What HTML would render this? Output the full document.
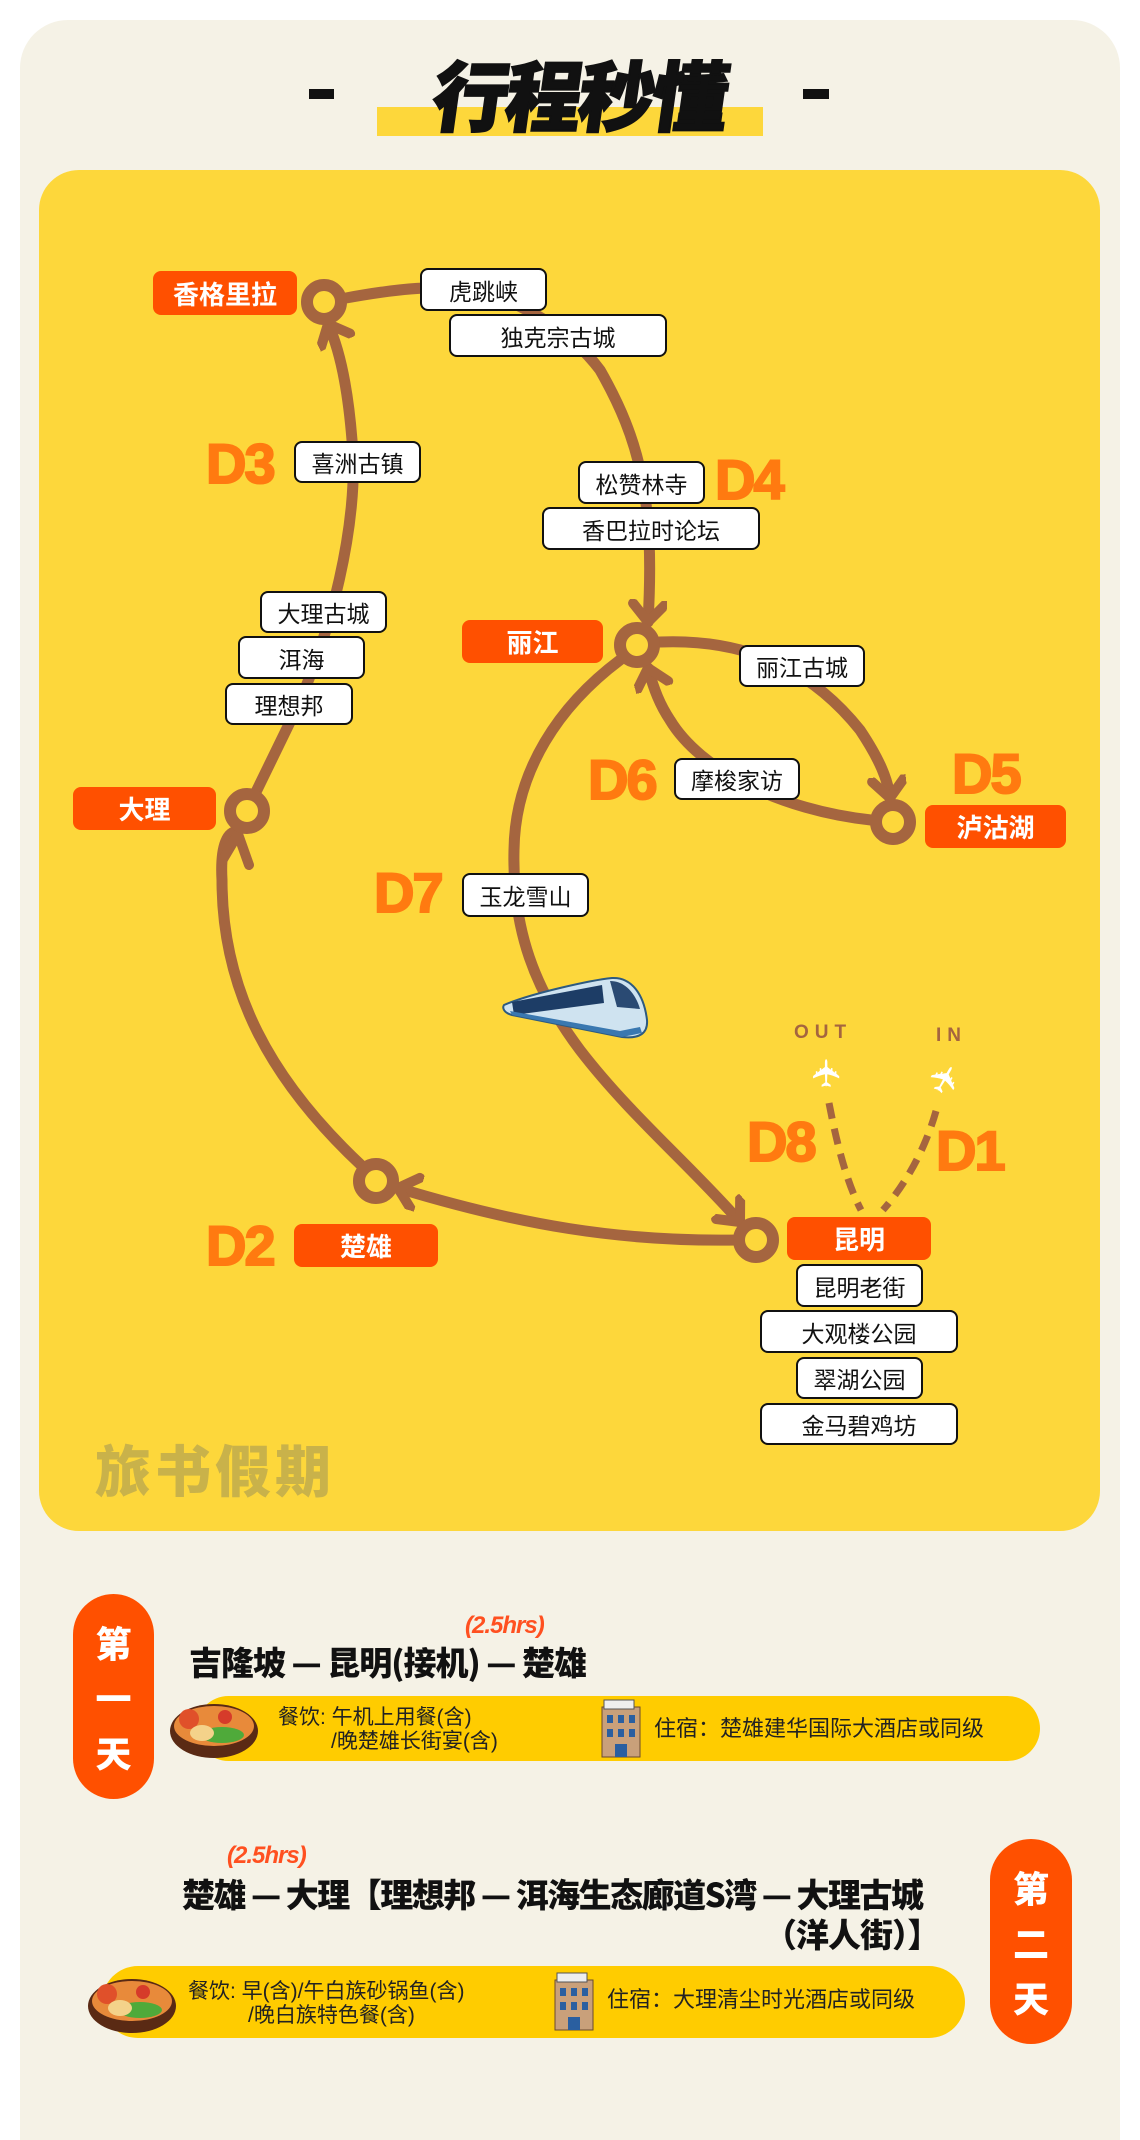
<!DOCTYPE html>
<html style="overflow:hidden"><head><meta charset="utf-8">
<style>
*{margin:0;padding:0;box-sizing:border-box}
html,body{width:1140px;height:2140px;overflow:hidden}
body{background:#fff;position:relative;font-family:"Liberation Sans","Noto Sans CJK SC",sans-serif}
.abs{position:absolute}
.card{left:20px;top:20px;width:1100px;height:2120px;background:#f5f2e6;border-radius:48px 48px 0 0}
.panel{left:39px;top:170px;width:1061px;height:1361px;background:#fdd73b;border-radius:40px}
.box{position:absolute;background:#fff;border:2px solid #111;border-radius:8px;font-size:23px;color:#111;display:flex;align-items:center;justify-content:center;font-family:"Liberation Sans","Noto Sans CJK SC",sans-serif}
.lab{position:absolute;background:#ff5000;border-radius:8px;color:#fff;font-weight:700;font-size:26px;display:flex;align-items:center;justify-content:center}
.d{position:absolute;color:#ff7a10;font-weight:700;font-size:56px;line-height:1;letter-spacing:-2px;-webkit-text-stroke:2px #ff7a10}
.pill{position:absolute;background:#ff5000;border-radius:41px;color:#fff;font-weight:900;font-size:36px;display:flex;flex-direction:column;align-items:center;justify-content:space-around;padding:20px 0;font-family:"Noto Sans CJK SC",sans-serif}
.bar{position:absolute;background:#ffcc00;border-radius:34px}
.t{position:absolute;font-family:"Noto Sans CJK SC",sans-serif;font-weight:900;color:#111;white-space:nowrap}
.hrs{position:absolute;color:#ff5020;font-weight:700;font-style:italic;font-size:24px;letter-spacing:-1px}
.small{position:absolute;font-size:21px;color:#222;line-height:24px;white-space:nowrap}
</style></head><body>
<div class="abs card"></div>
<div class="abs" style="left:309px;top:89px;width:25px;height:10px;background:#111"></div>
<div class="abs" style="left:803px;top:89px;width:26px;height:10px;background:#111"></div>
<div class="abs" style="left:377px;top:107px;width:386px;height:29px;background:#fdd73b"></div>
<div class="t" style="left:434px;top:44px;font-size:76px;line-height:96px;transform:skewX(-8deg);letter-spacing:-3px;-webkit-text-stroke:2px #111">行程秒懂</div>
<div class="abs panel"></div>

<svg class="abs" style="left:0;top:0" width="1140" height="1560" viewBox="0 0 1140 1560">
<defs>
<marker id="ar" markerUnits="userSpaceOnUse" markerWidth="50" markerHeight="50" refX="22" refY="18" orient="auto">
<path d="M4,2 L22,18 L4,34" fill="none" stroke="#a5653f" stroke-width="10" stroke-linecap="round" stroke-linejoin="round"/>
</marker>
</defs>
<g fill="none" stroke="#a5653f" stroke-width="11" stroke-linecap="round">
<path d="M738,1240 C620,1242 520,1225 398,1188" marker-end="url(#ar)"/>
<path d="M362,1166 C270,1080 222,990 222,880 C220,845 228,830 238,832" />
<path d="M256,792 L292,718 C330,640 360,520 352,440 C348,390 340,350 328,324" marker-end="url(#ar)"/>
<path d="M346,298 C400,288 440,285 470,290 C520,300 570,330 600,370 C640,440 655,500 648,622" marker-end="url(#ar)"/>
<path d="M660,642 C760,638 820,680 860,730 C880,760 888,780 890,798" marker-end="url(#ar)"/>
<path d="M871,820 C780,810 700,770 670,720 C660,705 654,690 648,668" marker-end="url(#ar)"/>
<path d="M620,660 C560,705 515,770 514,850 C512,930 535,990 580,1050 C630,1115 690,1165 740,1222" marker-end="url(#ar)"/>
</g>
<path d="M222,861 L238,834 L249,865" fill="none" stroke="#a5653f" stroke-width="10" stroke-linecap="round" stroke-linejoin="round"/>
<g fill="#fdd73b" stroke="#a5653f" stroke-width="12">
<circle cx="324" cy="302" r="17"/>
<circle cx="637" cy="645" r="17"/>
<circle cx="893" cy="822" r="17"/>
<circle cx="247" cy="811" r="17"/>
<circle cx="376" cy="1181" r="17"/>
<circle cx="756" cy="1240" r="17"/>
</g>
<g fill="none" stroke="#a5653f" stroke-width="7" stroke-dasharray="16,10">
<path d="M829,1103 C838,1150 848,1185 861,1210"/>
<path d="M936,1111 C925,1150 905,1185 883,1210"/>
</g>
<text x="794" y="1038" font-family="Liberation Sans" font-weight="700" font-size="19" fill="#a5653f" letter-spacing="6">OUT</text>
<text x="936" y="1041" font-family="Liberation Sans" font-weight="700" font-size="19" fill="#a5653f" letter-spacing="6">IN</text>
<text x="810" y="1085" font-size="38" fill="#fff" transform="rotate(-90 827 1072)">✈</text>
<text x="928" y="1092" font-size="38" fill="#fff" transform="rotate(-60 945 1078)">✈</text>
<g transform="translate(502,975)">
<path d="M2,30 C30,18 90,5 110,3 C130,2 142,20 145,45 C146,58 138,64 120,62 L10,40 C2,38 0,33 2,30Z" fill="#cfe3f0" stroke="#2d5a80" stroke-width="2"/>
<path d="M10,27 L100,10 L102,28 L12,40Z" fill="#1d3d66"/>
<path d="M108,6 C124,6 134,20 138,34 L115,32 Z" fill="#2a4a73"/>
<path d="M10,40 L120,62 L140,58 L138,52 L118,56 L8,36Z" fill="#3a78b0"/>
</g>
<text x="95" y="1492" font-family="Noto Sans CJK SC" font-weight="900" font-size="56" fill="#c9b24a" letter-spacing="4">旅书假期</text>
</svg>

<div class="lab" style="left:153px;top:271px;width:144px;height:44px">香格里拉</div>
<div class="box" style="left:420px;top:268px;width:127px;height:43px">虎跳峡</div>
<div class="box" style="left:449px;top:314px;width:218px;height:43px">独克宗古城</div>
<div class="d" style="left:206px;top:436px">D3</div>
<div class="box" style="left:294px;top:441px;width:127px;height:42px">喜洲古镇</div>
<div class="box" style="left:578px;top:461px;width:127px;height:43px">松赞林寺</div>
<div class="d" style="left:715px;top:452px">D4</div>
<div class="box" style="left:542px;top:507px;width:218px;height:43px">香巴拉时论坛</div>
<div class="box" style="left:260px;top:591px;width:127px;height:42px">大理古城</div>
<div class="box" style="left:238px;top:636px;width:127px;height:43px">洱海</div>
<div class="box" style="left:225px;top:683px;width:128px;height:42px">理想邦</div>
<div class="lab" style="left:462px;top:620px;width:141px;height:43px">丽江</div>
<div class="box" style="left:739px;top:645px;width:126px;height:42px">丽江古城</div>
<div class="lab" style="left:73px;top:787px;width:143px;height:43px">大理</div>
<div class="d" style="left:588px;top:752px">D6</div>
<div class="box" style="left:674px;top:758px;width:126px;height:42px">摩梭家访</div>
<div class="d" style="left:952px;top:746px">D5</div>
<div class="lab" style="left:925px;top:805px;width:141px;height:43px">泸沽湖</div>
<div class="d" style="left:374px;top:865px">D7</div>
<div class="box" style="left:462px;top:873px;width:127px;height:44px">玉龙雪山</div>
<div class="d" style="left:747px;top:1114px">D8</div>
<div class="d" style="left:936px;top:1123px">D1</div>
<div class="d" style="left:206px;top:1218px">D2</div>
<div class="lab" style="left:294px;top:1224px;width:144px;height:43px">楚雄</div>
<div class="lab" style="left:787px;top:1217px;width:144px;height:43px">昆明</div>
<div class="box" style="left:796px;top:1264px;width:127px;height:43px">昆明老街</div>
<div class="box" style="left:760px;top:1310px;width:198px;height:43px">大观楼公园</div>
<div class="box" style="left:796px;top:1357px;width:127px;height:42px">翠湖公园</div>
<div class="box" style="left:760px;top:1403px;width:198px;height:42px">金马碧鸡坊</div>

<div class="pill" style="left:73px;top:1594px;width:81px;height:205px"><span>第</span><span>一</span><span>天</span></div>
<div class="hrs" style="left:465px;top:1612px">(2.5hrs)</div>
<div class="t" style="left:189px;top:1636px;font-size:33px;line-height:50px;letter-spacing:-1px">吉隆坡 — 昆明(接机) — 楚雄</div>
<div class="bar" style="left:196px;top:1696px;width:844px;height:65px"></div>
<svg class="abs" style="left:167px;top:1697px" width="96" height="64"><ellipse cx="47" cy="34" rx="44" ry="27" fill="#5a2a14"/><ellipse cx="47" cy="29" rx="40" ry="20" fill="#e88a3a"/><circle cx="22" cy="22" r="10" fill="#e0502a"/><circle cx="58" cy="20" r="7" fill="#d63b2a"/><ellipse cx="55" cy="38" rx="22" ry="8" fill="#4faa3a"/><ellipse cx="35" cy="36" rx="12" ry="8" fill="#f4d28a"/></svg>
<div class="small" style="left:278px;top:1706px">餐饮: 午机上用餐(含)</div>
<div class="small" style="left:331px;top:1730px">/晚楚雄长街宴(含)</div>
<svg class="abs" style="left:598px;top:1699px" width="46" height="60"><rect x="4" y="8" width="38" height="50" fill="#c9a07a" stroke="#6b4a2e"/><rect x="6" y="1" width="30" height="9" fill="#eee" stroke="#555"/><g fill="#2a5fa0"><rect x="9" y="16" width="6" height="8"/><rect x="20" y="16" width="6" height="8"/><rect x="31" y="16" width="6" height="8"/><rect x="9" y="30" width="6" height="8"/><rect x="20" y="30" width="6" height="8"/><rect x="31" y="30" width="6" height="8"/><rect x="17" y="45" width="12" height="13"/></g></svg>
<div class="small" style="left:654px;top:1717px;font-size:22px">住宿：楚雄建华国际大酒店或同级</div>

<div class="pill" style="left:990px;top:1839px;width:82px;height:205px"><span>第</span><span>二</span><span>天</span></div>
<div class="hrs" style="left:227px;top:1842px">(2.5hrs)</div>
<div class="t" style="left:182px;top:1868px;font-size:33px;line-height:50px;letter-spacing:-1.5px">楚雄 — 大理【理想邦 — 洱海生态廊道S湾 — 大理古城</div>
<div class="t" style="left:764px;top:1908px;font-size:33px;line-height:50px;letter-spacing:-1px">（洋人街）】</div>
<div class="bar" style="left:102px;top:1966px;width:863px;height:72px;border-radius:36px"></div>
<svg class="abs" style="left:85px;top:1972px" width="96" height="64"><ellipse cx="47" cy="34" rx="44" ry="27" fill="#5a2a14"/><ellipse cx="47" cy="29" rx="40" ry="20" fill="#e88a3a"/><circle cx="22" cy="22" r="10" fill="#e0502a"/><circle cx="58" cy="20" r="7" fill="#d63b2a"/><ellipse cx="55" cy="38" rx="22" ry="8" fill="#4faa3a"/><ellipse cx="35" cy="36" rx="12" ry="8" fill="#f4d28a"/></svg>
<div class="small" style="left:188px;top:1980px">餐饮: 早(含)/午白族砂锅鱼(含)</div>
<div class="small" style="left:248px;top:2004px">/晚白族特色餐(含)</div>
<svg class="abs" style="left:551px;top:1972px" width="46" height="60"><rect x="4" y="8" width="38" height="50" fill="#c9a07a" stroke="#6b4a2e"/><rect x="6" y="1" width="30" height="9" fill="#eee" stroke="#555"/><g fill="#2a5fa0"><rect x="9" y="16" width="6" height="8"/><rect x="20" y="16" width="6" height="8"/><rect x="31" y="16" width="6" height="8"/><rect x="9" y="30" width="6" height="8"/><rect x="20" y="30" width="6" height="8"/><rect x="31" y="30" width="6" height="8"/><rect x="17" y="45" width="12" height="13"/></g></svg>
<div class="small" style="left:607px;top:1988px;font-size:22px">住宿：大理清尘时光酒店或同级</div>
</body></html>
